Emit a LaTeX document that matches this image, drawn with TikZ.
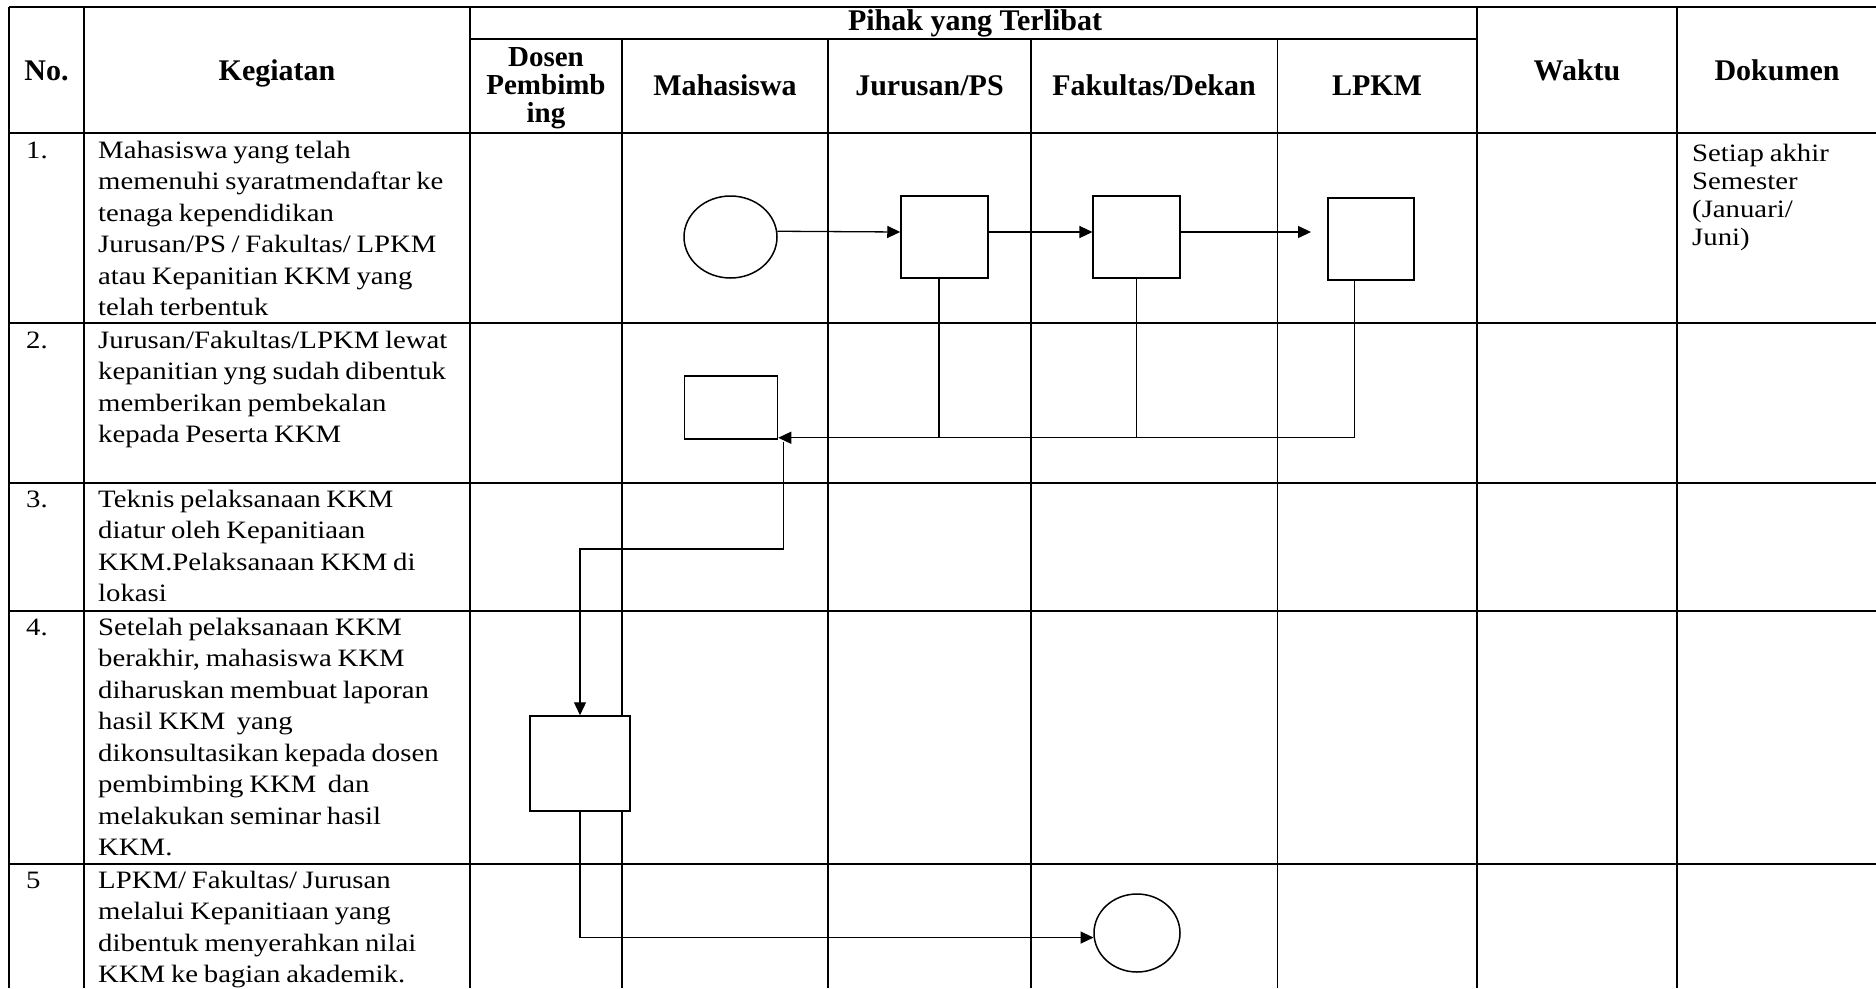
\documentclass[tikz,border=0pt]{standalone}
\usepackage{fontspec}
\setmainfont{Liberation Serif}
\newfontfamily\bodyfont[FakeStretch=1.15,WordSpace=0.8]{Liberation Serif}
\usetikzlibrary{arrows.meta,shapes.geometric}
\newcommand{\kegtxt}[2][31.5]{\parbox[t]{380pt}{\bodyfont\fontsize{25}{#1}\selectfont\raggedright #2}}
\newcommand{\numtxt}[1]{{\bodyfont\fontsize{25}{31.5}\selectfont #1}}
\begin{document}
\begin{tikzpicture}[x=1pt,y=-1pt,
  tbl/.style={line width=1.6pt},
  hd/.style={font=\fontsize{30}{30}\selectfont\bfseries, inner sep=0, anchor=base},
  bx/.style={draw, fill=white, line width=1.5pt, rectangle, inner sep=0},
  oval/.style={draw, fill=white, line width=1.5pt, ellipse, inner sep=0},
  arr/.style={line width=1.3pt, -{Triangle[length=13pt,width=12pt]}},
  ln/.style={line width=1.3pt},
  txt/.style={anchor=base west, inner sep=0}]
\useasboundingbox (0,0) rectangle (1876,988);
% table grid
\draw[tbl] (9,7) -- (1876,7);
\draw[tbl] (470,39) -- (1477,39);
\foreach \y in {133,323,483,611,864} \draw[tbl] (9,\y) -- (1876,\y);
\foreach \x in {9,84,470,1477,1677} \draw[tbl] (\x,7) -- (\x,988);
\foreach \x in {622,828,1031,1277.5} \draw[tbl] (\x,39) -- (\x,988);
% headers
\node[hd] (hno) at (46.5,80) {No.};
\node[hd] (hkeg) at (277,80) {Kegiatan};
\node[hd] (hpihak) at (975,30) {Pihak yang Terlibat};
\node[hd] (hdosen) at (546,66) {\parbox[t]{140pt}{\fontsize{29}{28}\selectfont\bfseries\centering Dosen\\Pembimb\\ing}};
\node[hd] (hmhs) at (725,95) {Mahasiswa};
\node[hd] (hjur) at (929.5,95) {Jurusan/PS};
\node[hd] (hfak) at (1154,95) {Fakultas/Dekan};
\node[hd] (hlpkm) at (1377,95) {LPKM};
\node[hd] (hwaktu) at (1577,80) {Waktu};
\node[hd] (hdok) at (1777,80) {Dokumen};
% numbers
\node[txt] (n1) at (26,158) {\numtxt{1.}};
\node[txt] (n2) at (26,348) {\numtxt{2.}};
\node[txt] (n3) at (26,507) {\numtxt{3.}};
\node[txt] (n4) at (26,635) {\numtxt{4.}};
\node[txt] (n5) at (26,888) {\numtxt{5}};
% activities
\node[txt] (k1) at (98,158) {\kegtxt{Mahasiswa yang telah\\memenuhi syaratmendaftar ke\\tenaga kependidikan\\Jurusan/PS / Fakultas/ LPKM\\atau Kepanitian KKM yang\\telah terbentuk}};
\node[txt] (k2) at (98,348) {\kegtxt{Jurusan/Fakultas/LPKM lewat\\kepanitian yng sudah dibentuk\\memberikan pembekalan\\kepada Peserta KKM}};
\node[txt] (k3) at (98,507) {\kegtxt{Teknis pelaksanaan KKM\\diatur oleh Kepanitiaan\\KKM.Pelaksanaan KKM di\\lokasi}};
\node[txt] (k4) at (98,635) {\kegtxt{Setelah pelaksanaan KKM\\berakhir, mahasiswa KKM\\diharuskan membuat laporan\\hasil KKM\ \ yang\\dikonsultasikan kepada dosen\\pembimbing KKM\ \ dan\\melakukan seminar hasil\\KKM.}};
\node[txt] (k5) at (98,888) {\kegtxt{LPKM/ Fakultas/ Jurusan\\melalui Kepanitiaan yang\\dibentuk menyerahkan nilai\\KKM ke bagian akademik.}};
% document
\node[txt] (doc1) at (1692,161) {\kegtxt[28.3]{Setiap akhir\\Semester\\(Januari/\\Juni)}};
% flow shapes
\node[oval, minimum width=93pt, minimum height=82pt] (c1) at (730.5,237) {};
\node[bx, minimum width=87pt, minimum height=82pt] (j1) at (944.5,237) {};
\node[bx, minimum width=87pt, minimum height=82pt] (f1) at (1136.7,237) {};
\node[bx, minimum width=86pt, minimum height=82pt] (l1) at (1370.8,239) {};
\node[bx, minimum width=93pt, minimum height=63pt] (m2) at (731,407.5) {};
\node[bx, minimum width=100pt, minimum height=95pt] (d4) at (580,763.5) {};
\node[oval, minimum width=86pt, minimum height=78pt] (c5) at (1137,933) {};
% connectors
\draw[arr] (c1.7) -- ([yshift=5pt]j1.west);
\draw[arr] ([yshift=5pt]j1.east) -- ([yshift=5pt]f1.west);
\draw[arr, shorten >=16pt] ([yshift=5pt]f1.east) -- ([yshift=7pt]l1.west);
\coordinate (fb) at ([xshift=-16pt]l1.south);
\coordinate (fbh) at ([yshift=2pt]m2.south east);
\coordinate (jb) at ([xshift=-5.5pt]j1.south);
\draw[arr] (fb) |- (fbh);
\draw[ln] (jb) -- (jb |- fbh);
\draw[ln] (f1.south) -- (f1.south |- fbh);
\coordinate (mb) at ([xshift=5pt,yshift=-2pt]m2.south east);
\coordinate (kink) at (700,549);
\draw[arr] (mb) |- (kink) -| (d4.north);
\draw[arr] (d4.south) |- (c5.186);
\end{tikzpicture}
\end{document}
